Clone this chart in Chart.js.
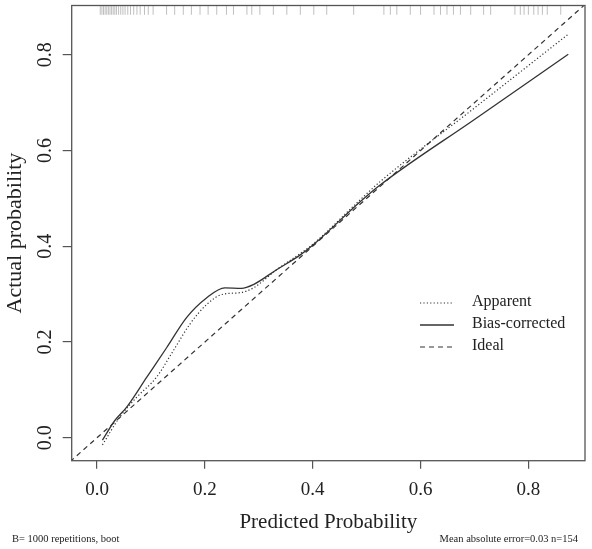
<!DOCTYPE html>
<html lang="en">
<head>
    <meta charset="UTF-8">
    <title>Calibration plot</title>
    <script src="https://cdn.jsdelivr.net/npm/chart.js"></script>
    <style>
        body { margin: 0; background: #ffffff; }
        canvas { display: block; }
    </style>
</head>
<body>
    <canvas id="chart" width="592" height="549"></canvas>

    <script>
        // values
        const apparentX = [0.010, 0.042, 0.073, 0.110, 0.141, 0.172, 0.203, 0.234, 0.265, 0.290, 0.333, 0.377, 0.401, 0.488, 0.525, 0.700, 0.874];
        const apparentY = [-0.015, 0.043, 0.084, 0.126, 0.181, 0.237, 0.278, 0.300, 0.303, 0.313, 0.351, 0.385, 0.405, 0.497, 0.535, 0.689, 0.843];

        const biasX = [0.010, 0.033, 0.055, 0.092, 0.129, 0.166, 0.203, 0.237, 0.268, 0.290, 0.333, 0.377, 0.401, 0.488, 0.525, 0.700, 0.874];
        const biasY = [-0.005, 0.036, 0.064, 0.126, 0.188, 0.251, 0.292, 0.313, 0.312, 0.320, 0.351, 0.382, 0.403, 0.493, 0.528, 0.665, 0.801];

        const idealX = [-0.1, 1.0];

        // predicted probabilities shown as the rug on top
        const rugX = [0.006, 0.009, 0.012, 0.015, 0.018, 0.021, 0.024, 0.027, 0.030, 0.033, 0.036, 0.040, 0.044,
            0.048, 0.052, 0.057, 0.062, 0.068, 0.074, 0.080, 0.088, 0.095, 0.104, 0.129, 0.144, 0.160, 0.175,
            0.191, 0.206, 0.222, 0.240, 0.253, 0.278, 0.287, 0.302, 0.327, 0.352, 0.377, 0.402, 0.426, 0.476,
            0.532, 0.544, 0.556, 0.581, 0.600, 0.625, 0.637, 0.649, 0.661, 0.674, 0.693, 0.717, 0.730, 0.775,
            0.785, 0.792, 0.800, 0.810, 0.818, 0.826, 0.835, 0.860];

        const xTicks = [0, 0.2, 0.4, 0.6, 0.8];
        const yTicks = [0, 0.2, 0.4, 0.6, 0.8];
        const xRange = [-0.047, 0.905];
        const yRange = [-0.048, 0.903];

        const subLeft = 'B= 1000 repetitions, boot';
        const subRight = 'Mean absolute error=0.03 n=154';

        const serif = '"Liberation Serif", "DejaVu Serif", serif';
        const ink = '#333333';

        const pts = (xs, ys) => xs.map((x, i) => ({ x: x, y: ys[i] }));

        const boxAndText = {
            id: 'boxAndText',
            afterDraw(chart) {
                const c = chart.ctx;
                const a = chart.chartArea;
                c.save();
                c.strokeStyle = '#555555';
                c.lineWidth = 1.3;
                c.strokeRect(a.left, a.top, a.right - a.left, a.bottom - a.top);

                // legend inside the plot
                let ly = 302;
                chart.data.datasets.forEach(ds => {
                    if (!ds.inLegend) return;
                    c.strokeStyle = ds.borderColor;
                    c.lineWidth = ds.borderWidth;
                    c.setLineDash(ds.borderDash || []);
                    c.beginPath();
                    c.moveTo(420, ly + 1);
                    c.lineTo(454, ly + 1);
                    c.stroke();
                    c.setLineDash([]);
                    c.fillStyle = '#222';
                    c.font = '16px ' + serif;
                    c.textBaseline = 'middle';
                    c.textAlign = 'left';
                    c.fillText(ds.label, 472, ly);
                    ly += 22;
                });

                c.font = '10.5px ' + serif;
                c.fillStyle = '#222';
                c.textBaseline = 'middle';
                c.textAlign = 'left';
                c.fillText(subLeft, 12, 539);
                c.textAlign = 'right';
                c.fillText(subRight, 578, 539);
                c.restore();
            }
        };

        const ctx = document.getElementById('chart').getContext('2d');
        const chart = new Chart(ctx, {
            type: 'scatter',
            data: {
                datasets: [
                    {
                        label: 'rug',
                        data: rugX.map(x => ({ x: x, y: yRange[1] - 0.01 })),
                        pointStyle: 'line',
                        rotation: 90,
                        radius: 4.5,
                        borderWidth: 1,
                        borderColor: 'rgba(0,0,0,0.25)',
                        backgroundColor: 'rgba(0,0,0,0.25)'
                    },
                    {
                        label: 'Apparent',
                        inLegend: true,
                        type: 'line',
                        data: pts(apparentX, apparentY),
                        borderColor: ink,
                        borderWidth: 1.2,
                        borderDash: [1.2, 2.2],
                        pointRadius: 0,
                        cubicInterpolationMode: 'monotone',
                        fill: false
                    },
                    {
                        label: 'Bias-corrected',
                        inLegend: true,
                        type: 'line',
                        data: pts(biasX, biasY),
                        borderColor: ink,
                        borderWidth: 1.3,
                        pointRadius: 0,
                        cubicInterpolationMode: 'monotone',
                        fill: false
                    },
                    {
                        label: 'Ideal',
                        inLegend: true,
                        type: 'line',
                        data: pts(idealX, idealX),
                        borderColor: ink,
                        borderWidth: 1.2,
                        borderDash: [5, 4],
                        pointRadius: 0,
                        fill: false
                    }
                ]
            },
            options: {
                responsive: false,
                animation: false,
                layout: { padding: { left: 0, top: 3, right: 7, bottom: 0 } },
                plugins: { legend: { display: false }, tooltip: { enabled: false } },
                scales: {
                    x: {
                        type: 'linear',
                        min: xRange[0],
                        max: xRange[1],
                        afterBuildTicks: s => { s.ticks = xTicks.map(v => ({ value: v })); },
                        afterFit: s => { s.height = 88.3; s.paddingLeft = 0; s.paddingRight = 0; },
                        grid: { drawOnChartArea: false, drawTicks: true, tickLength: 8, color: '#555', lineWidth: 1.2 },
                        border: { display: false },
                        ticks: {
                            font: { family: serif, size: 19 },
                            color: '#222',
                            padding: 10,
                            maxRotation: 0,
                            callback: v => v.toFixed(1)
                        },
                        title: {
                            display: true,
                            text: 'Predicted Probability',
                            font: { family: serif, size: 21 },
                            color: '#222',
                            padding: { top: 0, bottom: 14 }
                        }
                    },
                    y: {
                        type: 'linear',
                        min: yRange[0],
                        max: yRange[1],
                        afterBuildTicks: s => { s.ticks = yTicks.map(v => ({ value: v })); },
                        afterFit: s => { s.width = 71.7; s.paddingTop = 0; s.paddingBottom = 0; },
                        grid: { drawOnChartArea: false, drawTicks: true, tickLength: 9, color: '#555', lineWidth: 1.2 },
                        border: { display: false },
                        ticks: {
                            font: { family: serif, size: 20 },
                            color: '#222',
                            padding: 4,
                            minRotation: 90,
                            maxRotation: 90,
                            crossAlign: 'center',
                            callback: v => v.toFixed(1)
                        },
                        title: {
                            display: true,
                            text: 'Actual probability',
                            font: { family: serif, size: 22 },
                            color: '#222',
                            padding: { top: 2, bottom: 0 }
                        }
                    }
                }
            },
            plugins: [boxAndText]
        });
    </script>
</body>
</html>
